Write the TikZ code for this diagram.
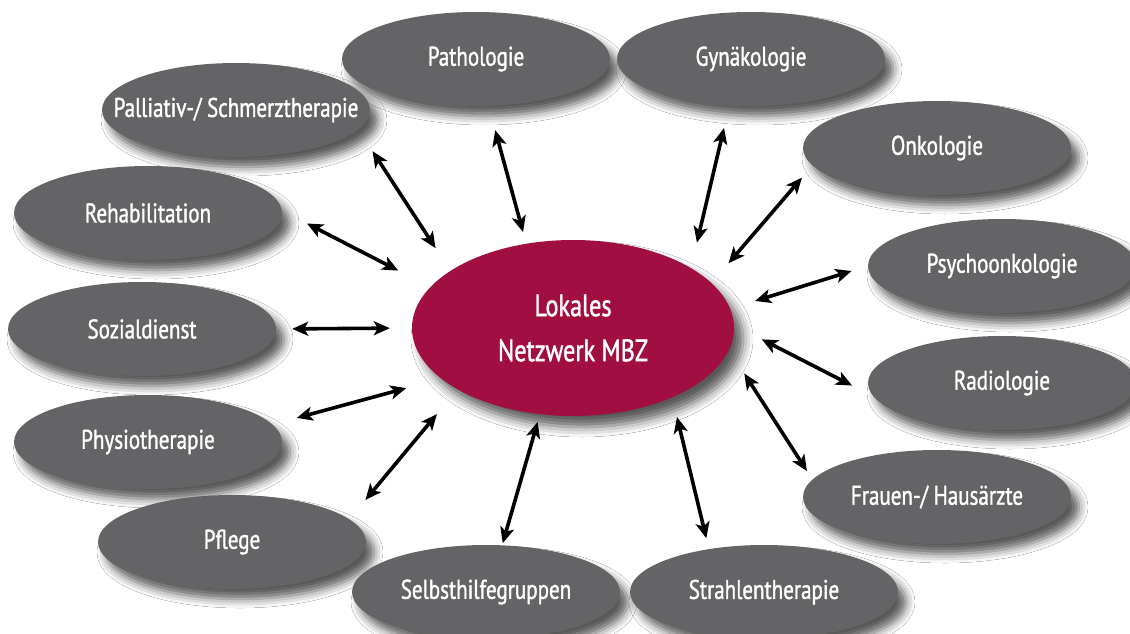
\documentclass[tikz,border=0pt]{standalone}
\usepackage{fontspec}
\setmainfont{PT Sans}[FakeStretch=0.78, FakeBold=1.3]
\usetikzlibrary{shapes.geometric, arrows.meta, shadows.blur}

\definecolor{unitgray}{RGB}{100,100,103}
\definecolor{mbzred}{RGB}{160,14,66}

\tikzset{
    unit/.style={ellipse, fill=unitgray, minimum width=268pt, minimum height=94pt, inner sep=0pt,
        blur shadow={shadow xshift=8pt, shadow yshift=-10pt, shadow blur radius=9pt, shadow opacity=65},
        label={[text=white, font=\fontsize{27}{30}\selectfont]center:#1}},
    hub/.style={ellipse, fill=mbzred, minimum width=322pt, minimum height=176pt, align=center,
        text=white, font=\fontsize{31}{45}\selectfont,
        blur shadow={shadow xshift=9pt, shadow yshift=-11pt, shadow blur radius=10pt, shadow opacity=65}},
    link/.style={{Stealth[length=16pt, width=14pt, inset=4pt]}-{Stealth[length=16pt, width=14pt, inset=4pt]},
        line width=3.6pt, black}
}

\begin{document}
\begin{tikzpicture}[x=1pt, y=-1pt]
\useasboundingbox (0,0) rectangle (1130,634);
\fill[white] (0,0) rectangle (1130,634);

    \node[unit=Pathologie] (path) at (476,59) {};
    \node[unit=Gynäkologie] (gyn) at (751,59) {};
    \node[unit={Palliativ-/ Schmerztherapie}] (pall) at (236,110) {};
    \node[unit=Onkologie] (onko) at (937,148) {};
    \node[unit=Rehabilitation] (reha) at (148,213) {};
    \node[unit=Psychoonkologie] (psy) at (1002,266) {};
    \node[unit=Sozialdienst] (soz) at (142,329) {};
    \node[unit=Radiologie] (radio) at (1002,383) {};
    \node[unit=Physiotherapie] (physio) at (148,442) {};
    \node[unit={Frauen-/ Hausärzte}] (frau) at (937,497) {};
    \node[unit=Pflege] (pfl) at (232,542) {};
    \node[unit=Selbsthilfegruppen] (selbst) at (486,592) {};
    \node[unit=Strahlentherapie] (strahl) at (764,592) {};

    \node[hub] (cen) at (573,328) {Lokales\\Netzwerk MBZ};

    \draw[link, shorten <=25pt, shorten >=12pt] (path.285) -- (cen.119);
    \draw[link, shorten <=23pt, shorten >=26pt] (gyn.245) -- (cen.27);
    \draw[link, shorten <=26pt, shorten >=27pt] (pall.351) -- (cen.155);
    \draw[link, shorten <=16pt, shorten >=26pt] (onko.188) -- (cen.18);
    \draw[link, shorten <=28pt, shorten >=36pt] (reha.1) -- (cen.164);
    \draw[link, shorten <=17pt, shorten >=26pt] (psy.180) -- (cen.7);
    \draw[link, shorten <=16pt, shorten >=22pt] (soz.0) -- (cen.180);
    \draw[link, shorten <=24pt, shorten >=31pt] (radio.186) -- (cen.1);
    \draw[link, shorten <=25pt, shorten >=36pt] (physio.8) -- (cen.201);
    \draw[link, shorten <=10pt, shorten >=28pt] (frau.172) -- (cen.352);
    \draw[link, shorten <=25pt, shorten >=32pt] (pfl.11) -- (cen.208);
    \draw[link, shorten <=2pt, shorten >=8pt] (selbst.71) -- (cen.249);
    \draw[link, shorten <=11pt, shorten >=20pt] (strahl.142) -- (cen.325);
\end{tikzpicture}
\end{document}
